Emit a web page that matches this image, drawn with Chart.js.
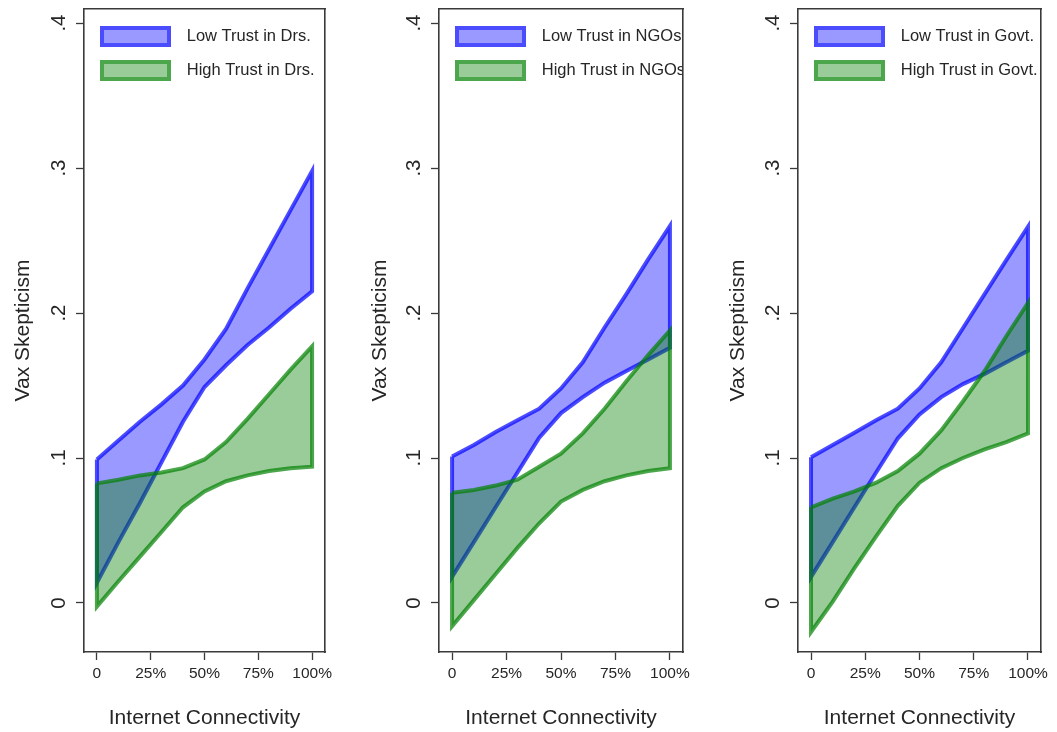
<!DOCTYPE html>
<html><head><meta charset="utf-8">
<script src="https://cdn.jsdelivr.net/npm/chart.js@4.4.1/dist/chart.umd.min.js"></script>
<style>
html,body{margin:0;padding:0;background:#fff;width:1057px;height:732px;overflow:hidden;}
canvas{position:absolute;top:0;}
</style></head><body>
<canvas id="c1" width="340" height="732" style="left:0px"></canvas>
<canvas id="c2" width="343" height="732" style="left:357px"></canvas>
<canvas id="c3" width="342" height="732" style="left:715px"></canvas>
<script>
// ---- data ----
const xValues = [0, 0.1, 0.2, 0.3, 0.4, 0.5, 0.6, 0.7, 0.8, 0.9, 1];
const xTickValues = [0, 0.25, 0.5, 0.75, 1];
const xTickLabels = ['0', '25%', '50%', '75%', '100%'];
const yTickValues = [0, 0.1, 0.2, 0.3, 0.4];
const yTickLabels = ['0', '.1', '.2', '.3', '.4'];
const xTitle = 'Internet Connectivity';
const yTitle = 'Vax Skepticism';

const drsLabels = ['Low Trust in Drs.', 'High Trust in Drs.'];
const lowDrsUpper  = [0.099, 0.112, 0.125, 0.137, 0.150, 0.168, 0.189, 0.217, 0.244, 0.271, 0.298];
const lowDrsLower  = [0.014, 0.042, 0.069, 0.097, 0.125, 0.149, 0.164, 0.178, 0.190, 0.203, 0.215];
const highDrsUpper = [0.0825, 0.085, 0.088, 0.090, 0.093, 0.099, 0.111, 0.127, 0.144, 0.161, 0.177];
const highDrsLower = [-0.0025, 0.015, 0.032, 0.049, 0.066, 0.077, 0.084, 0.088, 0.091, 0.093, 0.094];

const ngoLabels = ['Low Trust in NGOs', 'High Trust in NGOs'];
const lowNgoUpper  = [0.101, 0.109, 0.118, 0.126, 0.134, 0.148, 0.166, 0.190, 0.213, 0.237, 0.260];
const lowNgoLower  = [0.018, 0.042, 0.066, 0.090, 0.114, 0.131, 0.142, 0.152, 0.160, 0.168, 0.176];
const highNgoUpper = [0.076, 0.078, 0.081, 0.085, 0.094, 0.103, 0.117, 0.134, 0.153, 0.171, 0.188];
const highNgoLower = [-0.016, 0.002, 0.020, 0.038, 0.055, 0.070, 0.078, 0.084, 0.088, 0.091, 0.093];

const govLabels = ['Low Trust in Govt.', 'High Trust in Govt.'];
const lowGovUpper  = [0.1005, 0.109, 0.1175, 0.126, 0.134, 0.148, 0.166, 0.1895, 0.213, 0.2365, 0.2595];
const lowGovLower  = [0.018, 0.042, 0.066, 0.090, 0.1136, 0.130, 0.142, 0.151, 0.158, 0.166, 0.174];
const highGovUpper = [0.066, 0.072, 0.077, 0.083, 0.091, 0.103, 0.119, 0.139, 0.160, 0.184, 0.207];
const highGovLower = [-0.020, 0.001, 0.024, 0.046, 0.067, 0.083, 0.093, 0.100, 0.106, 0.111, 0.117];

// ---- styles ----
const FONT = "'Liberation Sans', Arial, Helvetica, sans-serif";
const blueFill = 'rgba(0,0,255,0.4)', blueLine = 'rgba(0,0,255,0.7)';
const greenFill = 'rgba(0,128,0,0.4)', greenLine = 'rgba(0,128,0,0.7)';
const frameColor = '#3a3a3a';
const textColor = '#262626';

function band(upper, lower) {
  const pts = [];
  for (let i = 0; i < xValues.length; i++) pts.push({x: xValues[i], y: upper[i]});
  for (let i = xValues.length - 1; i >= 0; i--) pts.push({x: xValues[i], y: lower[i]});
  pts.push({x: xValues[0], y: upper[0]});
  return pts;
}

function makeSwatch(fill, stroke) {
  const c = document.createElement('canvas');
  c.width = 80; c.height = 21;
  const g = c.getContext('2d');
  g.fillStyle = fill; g.fillRect(4, 4, 63, 13);
  g.strokeStyle = stroke; g.lineWidth = 4; g.strokeRect(2, 2, 67, 17);
  return c;
}
const swatches = [makeSwatch(blueFill, blueLine), makeSwatch(greenFill, greenLine)];

function makeChart(id, labels, lu, ll, hu, hl, yAxisW, padRight) {
  const ds = [
    {label: labels[0], data: band(lu, ll), showLine: true, fill: 'shape',
     backgroundColor: blueFill, borderColor: blueLine, borderWidth: 4, pointRadius: 0, order: 2, tension: 0},
    {label: labels[1], data: band(hu, hl), showLine: true, fill: 'shape',
     backgroundColor: greenFill, borderColor: greenLine, borderWidth: 4, pointRadius: 0, order: 1, tension: 0}
  ];
  return new Chart(document.getElementById(id), {
    type: 'scatter',
    data: {datasets: ds},
    options: {
      responsive: false, animation: false, devicePixelRatio: 1,
      layout: {padding: {top: 9, right: padRight, bottom: 0, left: 0}},
      plugins: {
        tooltip: {enabled: false},
        legend: {
          position: 'chartArea', align: 'start',
          title: {display: true, text: '', padding: 0, font: {size: 10.75, lineHeight: 1}},
          labels: {
            usePointStyle: true, pointStyleWidth: 77, padding: 17.5,
            font: {family: FONT, size: 16.5}, color: textColor,
            generateLabels: (chart) => chart.data.datasets.map((d, i) => ({
              text: d.label, pointStyle: swatches[i], datasetIndex: i, hidden: false,
              fillStyle: d.backgroundColor, strokeStyle: d.borderColor, lineWidth: 0, fontColor: textColor
            }))
          }
        }
      },
      scales: {
        x: {
          type: 'linear', position: 'bottom', min: -0.06, max: 1.06,
          afterBuildTicks: (s) => { s.ticks = xTickValues.map(v => ({value: v})); },
          ticks: {callback: (v, i) => xTickLabels[i], autoSkip: false, maxRotation: 0,
                  font: {family: FONT, size: 15.5}, color: textColor, padding: 4},
          grid: {display: true, drawOnChartArea: false, drawTicks: true, tickLength: 8, tickWidth: 1.3, tickColor: frameColor},
          border: {display: true, color: frameColor, width: 1.6},
          title: {display: true, text: xTitle, color: textColor, font: {family: FONT, size: 21}, padding: {top: 0, bottom: 1.5}},
          afterFit: (s) => { s.height = 80; s.paddingLeft = 0; s.paddingRight = 0; }
        },
        y: {
          type: 'linear', position: 'left', min: -0.0338, max: 0.4097,
          afterBuildTicks: (s) => { s.ticks = yTickValues.map(v => ({value: v})); },
          ticks: {callback: (v, i) => yTickLabels[i], autoSkip: false, minRotation: 90, maxRotation: 90,
                  crossAlign: 'center', font: {family: FONT, size: 20.5}, color: textColor, padding: 8.5},
          grid: {display: true, drawOnChartArea: false, drawTicks: true, tickLength: 8, tickWidth: 1.3, tickColor: frameColor},
          border: {display: true, color: frameColor, width: 1.6},
          title: {display: true, text: yTitle, color: textColor, font: {family: FONT, size: 21}, padding: {top: 10.4, bottom: 0}},
          afterFit: (s) => { s.width = yAxisW; s.paddingTop = 0; s.paddingBottom = 0; }
        },
        x2: {
          type: 'linear', position: 'top', min: -0.06, max: 1.06,
          ticks: {display: false}, grid: {display: false},
          border: {display: true, color: frameColor, width: 1.6},
          afterFit: (s) => { s.height = 0; s.paddingLeft = 0; s.paddingRight = 0; }
        },
        y2: {
          type: 'linear', position: 'right', min: -0.0338, max: 0.4097,
          ticks: {display: false}, grid: {display: false},
          border: {display: true, color: frameColor, width: 1.6},
          afterFit: (s) => { s.width = 0; s.paddingTop = 0; s.paddingBottom = 0; }
        }
      }
    }
  });
}

makeChart('c1', drsLabels, lowDrsUpper, lowDrsLower, highDrsUpper, highDrsLower, 84, 15);
makeChart('c2', ngoLabels, lowNgoUpper, lowNgoLower, highNgoUpper, highNgoLower, 82, 17);
makeChart('c3', govLabels, lowGovUpper, lowGovLower, highGovUpper, highGovLower, 83, 16);
</script>
</body></html>
